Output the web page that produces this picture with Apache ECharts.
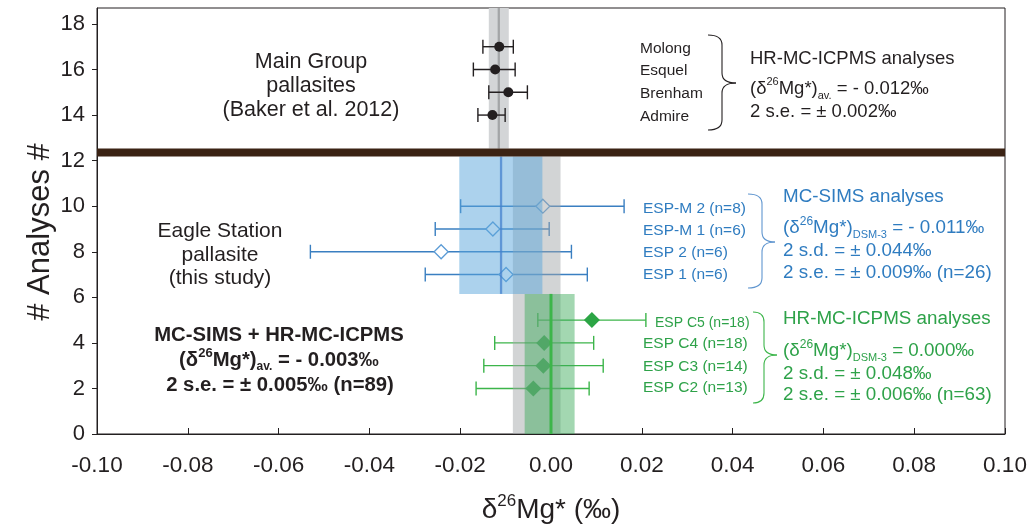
<!DOCTYPE html>
<html><head><meta charset="utf-8">
<script src="https://cdn.jsdelivr.net/npm/echarts@6/dist/echarts.min.js"></script>
<style>html,body{margin:0;padding:0;background:#fff}#c{width:1035px;height:528px}</style>
</head><body><div id="c"></div>
<script>
// ---------- data ----------
const yTickValues = [0, 2, 4, 6, 8, 10, 12, 14, 16, 18];

const mainNames = ['Molong', 'Esquel', 'Brenham', 'Admire'];
const mainY = [17, 16, 15, 14];
const mainVal = [-0.0114, -0.0123, -0.0094, -0.0129];
const mainLow = [-0.0150, -0.0171, -0.0137, -0.0161];
const mainHigh = [-0.0083, -0.0079, -0.0052, -0.0101];

const simsNames = ['ESP-M 2 (n=8)', 'ESP-M 1 (n=6)', 'ESP 2 (n=6)', 'ESP 1 (n=6)'];
const simsY = [10, 9, 8, 7];
const simsVal = [-0.0018, -0.0128, -0.0242, -0.0099];
const simsLow = [-0.0199, -0.0255, -0.0530, -0.0277];
const simsHigh = [0.0161, -0.0004, 0.0045, 0.0080];

const icpNames = ['ESP C5 (n=18)', 'ESP C4 (n=18)', 'ESP C3 (n=14)', 'ESP C2 (n=13)'];
const icpY = [5, 4, 3, 2];
const icpVal = [0.0090, -0.0015, -0.0017, -0.0039];
const icpLow = [-0.0029, -0.0124, -0.0148, -0.0165];
const icpHigh = [0.0209, 0.0094, 0.0115, 0.0084];

// averages and uncertainty bands  [xFrom, xTo, yFrom, yTo]
const mainAvg = -0.0115;
const mainBand = [-0.0137, -0.0093, 12.53, 18.7];
const allBand = [-0.0084, 0.0021, 0, 12.18];
const simsAvg = -0.011;
const simsBand = [-0.0202, -0.0019, 6.15, 12.18];
const icpAvg = 0.0;
const icpBand = [-0.0058, 0.0052, 0, 6.15];
const divider = [-0.1, 0.1, 12.18, 12.53];

// ---------- helpers ----------
const FF = '"Liberation Sans", Arial, Helvetica, sans-serif';
const BLACK = '#231f20';
const BLUE = '#2f7cc0';
const GREEN = '#2ea249';

function zip(ys, a, b) { return ys.map((y, i) => b ? [y, a[i], b[i]] : [a[i], y]); }

function errSeries(ys, lo, hi, color, z) {
  return {
    type: 'custom', z: z, silent: true,
    encode: { x: [1, 2], y: 0 },
    data: zip(ys, lo, hi),
    renderItem: function (params, api) {
      const y = api.value(0);
      const p1 = api.coord([api.value(1), y]);
      const p2 = api.coord([api.value(2), y]);
      const h = 7;
      const st = { stroke: color, lineWidth: 1.4 };
      return { type: 'group', children: [
        { type: 'line', shape: { x1: p1[0], y1: p1[1], x2: p2[0], y2: p2[1] }, style: st },
        { type: 'line', shape: { x1: p1[0], y1: p1[1] - h, x2: p1[0], y2: p1[1] + h }, style: st },
        { type: 'line', shape: { x1: p2[0], y1: p2[1] - h, x2: p2[0], y2: p2[1] + h }, style: st }
      ]};
    }
  };
}

function bandSeries(band, color, z) {
  return {
    type: 'custom', z: z, silent: true,
    encode: { x: [0, 1], y: [2, 3] },
    data: [band],
    renderItem: function (params, api) {
      const a = api.coord([api.value(0), api.value(3)]);
      const b = api.coord([api.value(1), api.value(2)]);
      return { type: 'rect', shape: { x: a[0], y: a[1], width: b[0] - a[0], height: b[1] - a[1] }, style: { fill: color } };
    }
  };
}

function vLineSeries(x, y0, y1, color, width, z) {
  return {
    type: 'custom', z: z, silent: true,
    encode: { x: 0, y: [1, 2] },
    data: [[x, y0, y1]],
    renderItem: function (params, api) {
      const a = api.coord([api.value(0), api.value(1)]);
      const b = api.coord([api.value(0), api.value(2)]);
      return { type: 'line', shape: { x1: a[0], y1: a[1], x2: b[0], y2: b[1] }, style: { stroke: color, lineWidth: width } };
    }
  };
}

function txt(x, y, text, size, color, opts) {
  opts = opts || {};
  const w = opts.bold ? 'bold' : 'normal';
  const base = { fontSize: size, fontFamily: FF, fill: color, fontWeight: w, lineHeight: size + 6 };
  const sub = { fontSize: Math.round(size * 0.6), fontFamily: FF, fill: color, fontWeight: w, lineHeight: Math.round(size * 0.8), verticalAlign: 'bottom' };
  const sup = { fontSize: Math.round(size * 0.62), fontFamily: FF, fill: color, fontWeight: w, lineHeight: Math.round(size * 0.8), verticalAlign: 'top' };
  return {
    type: 'text', x: x, y: y, rotation: opts.rotation || 0, silent: true,
    style: {
      text: text, fontSize: size, fontFamily: FF, fill: color, fontWeight: w,
      lineHeight: opts.lineHeight || (size + 4),
      textAlign: opts.align || 'left', textVerticalAlign: 'middle',
      rich: { n: base, sub: sub, sup: sup }
    }
  };
}

function brace(x, y1, y2, tipX, tipY, midX, color) {
  const r = 10;
  const st = { stroke: color, fill: null, lineWidth: 1.1 };
  return { type: 'group', silent: true, children: [
    { type: 'bezierCurve', shape: { x1: x, y1: y1, cpx1: midX, cpy1: y1, x2: midX, y2: y1 + r }, style: st },
    { type: 'line', shape: { x1: midX, y1: y1 + r, x2: midX, y2: tipY - r }, style: st },
    { type: 'bezierCurve', shape: { x1: midX, y1: tipY - r, cpx1: midX, cpy1: tipY, x2: tipX, y2: tipY }, style: st },
    { type: 'bezierCurve', shape: { x1: tipX, y1: tipY, cpx1: midX, cpy1: tipY, x2: midX, y2: tipY + r }, style: st },
    { type: 'line', shape: { x1: midX, y1: tipY + r, x2: midX, y2: y2 - r }, style: st },
    { type: 'bezierCurve', shape: { x1: midX, y1: y2 - r, cpx1: midX, cpy1: y2, x2: x, y2: y2 }, style: st }
  ]};
}

const dAv = (v) => `{n|(δ}{sup|26}{n|Mg*)}{sub|av.}{n| = ${v}}`;
const dDsm = (v) => `{n|(δ}{sup|26}{n|Mg*)}{sub|DSM-3}{n| = ${v}}`;

// ---------- chart ----------
const chart = echarts.init(document.getElementById('c'), null, { renderer: 'canvas' });

const graphics = [];
graphics.push(txt(311, 86, 'Main Group\npallasites\n(Baker et al. 2012)', 21.5, BLACK, { align: 'center', lineHeight: 24 }));
graphics.push(txt(220, 255, 'Eagle Station\npallasite\n(this study)', 21, BLACK, { align: 'center', lineHeight: 23.5 }));
const mainLabelY = [49, 71, 94, 117];
mainNames.forEach((n, i) => graphics.push(txt(640, mainLabelY[i], n, 15.5, BLACK)));
graphics.push(brace(708, 35, 130, 736, 83, 722, BLACK));
graphics.push(txt(750, 59, 'HR-MC-ICPMS analyses', 18.5, BLACK));
graphics.push(txt(750, 89, dAv('- 0.012‰'), 18.5, BLACK));
graphics.push(txt(750, 112, '2 s.e. = ± 0.002‰', 18.5, BLACK));
const simsLabelY = [209, 231, 253, 275];
simsNames.forEach((n, i) => graphics.push(txt(643, simsLabelY[i], n, 15.5, BLUE)));
graphics.push(brace(748, 194, 288, 775, 242, 762, '#5f95cf'));
graphics.push(txt(783, 197, 'MC-SIMS analyses', 18.8, BLUE));
graphics.push(txt(783, 228, dDsm('- 0.011‰'), 18.8, BLUE));
graphics.push(txt(783, 251, '2 s.d. = ± 0.044‰', 18.8, BLUE));
graphics.push(txt(783, 273, '2 s.e. = ± 0.009‰ (n=26)', 18.8, BLUE));
const icpLabelY = [323, 344, 367, 388];
const icpLabelX = [655, 643, 643, 643];
const icpLabelSize = [14, 15.5, 15.5, 15.5];
icpNames.forEach((n, i) => graphics.push(txt(icpLabelX[i], icpLabelY[i], n, icpLabelSize[i], GREEN)));
graphics.push(brace(753, 312, 403, 777, 355, 764, '#3cb54a'));
graphics.push(txt(783, 319, 'HR-MC-ICPMS analyses', 18.8, GREEN));
graphics.push(txt(783, 351, dDsm('0.000‰'), 18.8, GREEN));
graphics.push(txt(783, 374, '2 s.d. = ± 0.048‰', 18.8, GREEN));
graphics.push(txt(783, 395, '2 s.e. = ± 0.006‰ (n=63)', 18.8, GREEN));
graphics.push(txt(279, 335, 'MC-SIMS + HR-MC-ICPMS', 20.3, BLACK, { align: 'center', bold: true }));
graphics.push(txt(279, 360, dAv('- 0.003‰'), 20.3, BLACK, { align: 'center', bold: true }));
graphics.push(txt(280, 385, '2 s.e. = ± 0.005‰ (n=89)', 20.3, BLACK, { align: 'center', bold: true }));
graphics.push(txt(40, 232, '# Analyses #', 31, BLACK, { align: 'center', rotation: Math.PI / 2 }));
graphics.push(txt(551, 510, '{n|δ}{sup|26}{n|Mg* (‰)}', 28, BLACK, { align: 'center' }));

const option = {
  animation: false,
  backgroundColor: '#ffffff',
  grid: { left: 97, right: 30, top: 8, bottom: 94, show: true, borderColor: BLACK, borderWidth: 1, backgroundColor: 'transparent', containLabel: false },
  xAxis: {
    type: 'value', min: -0.1, max: 0.1, interval: 0.02,
    axisLine: { show: true, onZero: false, lineStyle: { color: BLACK, width: 1 } },
    axisTick: { show: true, inside: true, length: 6, lineStyle: { color: BLACK } },
    splitLine: { show: false },
    axisLabel: { color: BLACK, fontSize: 22.5, fontFamily: FF, margin: 20, formatter: (v) => v.toFixed(2) }
  },
  yAxis: {
    type: 'value', min: 0, max: 18.7, interval: 2,
    axisLine: { show: true, onZero: false, lineStyle: { color: BLACK, width: 1 } },
    axisTick: { show: true, inside: false, length: 5, lineStyle: { color: BLACK }, customValues: yTickValues },
    splitLine: { show: false },
    axisLabel: { color: BLACK, fontSize: 22, fontFamily: FF, margin: 12, customValues: yTickValues,
      formatter: (v) => (yTickValues.indexOf(Math.round(v * 1000) / 1000) >= 0 ? String(Math.round(v)) : '') }
  },
  graphic: graphics,
  series: [
    bandSeries(mainBand, '#d3d5d7', 1),
    vLineSeries(mainAvg, mainBand[2], mainBand[3], '#a3a5a7', 2.3, 1),
    errSeries(mainY, mainLow, mainHigh, BLACK, 2),
    errSeries(simsY, simsLow, simsHigh, '#3a7fc1', 2),
    errSeries(icpY, icpLow, icpHigh, '#3cb54a', 2),
    { type: 'scatter', z: 3, silent: true, symbol: 'circle', symbolSize: 10, data: zip(mainY, mainVal),
      itemStyle: { color: BLACK, opacity: 1 } },
    { type: 'scatter', z: 3, silent: true, symbol: 'diamond', symbolSize: 14, data: zip(simsY, simsVal),
      itemStyle: { color: '#ffffff', borderColor: '#5b9bd5', borderWidth: 1.3, opacity: 1 } },
    { type: 'scatter', z: 3, silent: true, symbol: 'diamond', symbolSize: 16, data: zip(icpY, icpVal),
      itemStyle: { color: '#2ca545', opacity: 1 } },
    bandSeries(allBand, 'rgba(160,165,168,0.48)', 5),
    bandSeries(simsBand, 'rgba(90,165,220,0.5)', 6),
    bandSeries(icpBand, 'rgba(60,170,90,0.47)', 6),
    vLineSeries(simsAvg, simsBand[2], simsBand[3], 'rgba(70,130,205,0.75)', 2.3, 7),
    vLineSeries(icpAvg, icpBand[2], icpBand[3], '#3cb54a', 3, 7),
    bandSeries(divider, '#3b2314', 8)
  ]
};
chart.setOption(option);
</script>
</body></html>
